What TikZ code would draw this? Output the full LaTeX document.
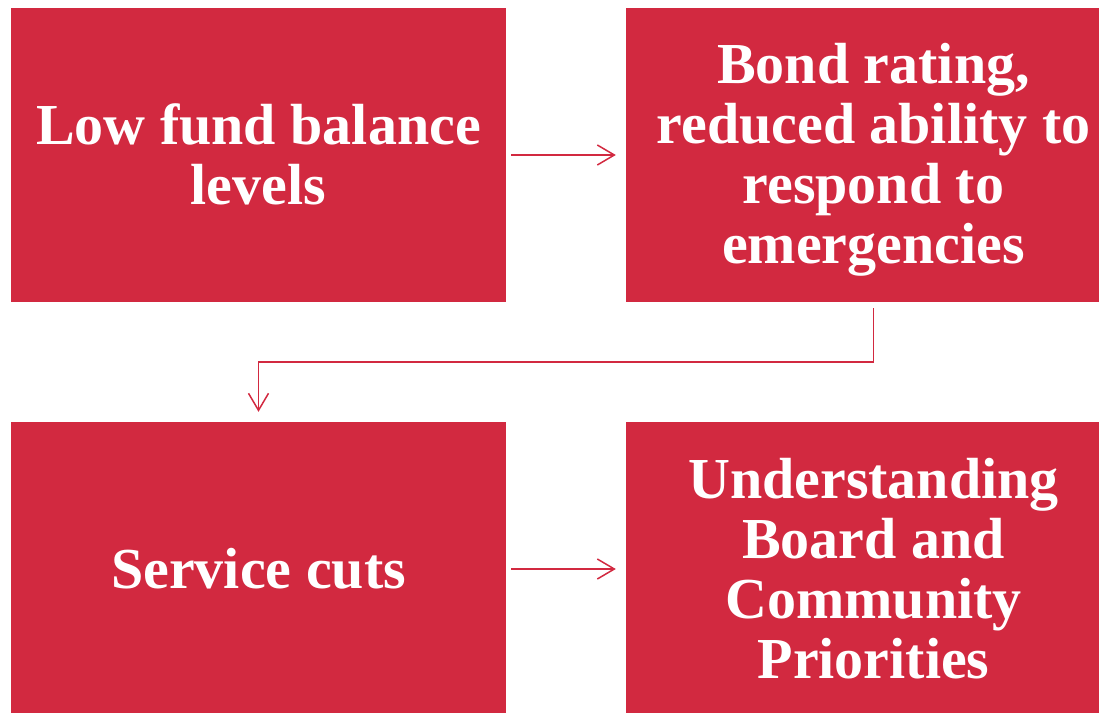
\documentclass[tikz,border=0pt]{standalone}
\usepackage{fontspec}
\setmainfont{Liberation Serif}
\usetikzlibrary{arrows.meta}
\definecolor{boxred}{RGB}{210,41,64}
\tikzset{
  box/.style={fill=boxred, draw=none, minimum width=495pt, minimum height=294pt,
    inner sep=0pt},
  boxtext/.style={text=white, align=center, inner sep=0pt,
    font=\fontsize{58pt}{60pt}\selectfont\bfseries},
  conn/.style={draw=boxred, line width=1.5pt,
    -{Straight Barb[length=17pt,width=20pt,line width=1.5pt]}}
}
\begin{document}
\begin{tikzpicture}[x=1pt,y=-1pt]
\useasboundingbox (0,0) rectangle (1099,712);
\clip (0,0) rectangle (1099,712);
\node[box] (b1) at (258.5,155) {};
\node[box] (b2) at (873.5,155) {};
\node[box] (b3) at (258.5,569) {};
\node[box] (b4) at (873.5,569) {};
\node[boxtext] (t1) at ([yshift=1pt]b1.center) {Low fund balance\\levels};
\node[boxtext] (t2) at ([yshift=-5pt]b2.center) {Bond rating,\\reduced ability to\\respond to\\emergencies};
\node[boxtext] (t3) at (b3.center) {Service cuts};
\node[boxtext] (t4) at (b4.center) {Understanding\\Board and\\Community\\Priorities};
\draw[conn, shorten <=5pt, shorten >=10pt] (b1) -- (b2);
\draw[conn, shorten <=5pt, shorten >=10pt] (b3) -- (b4);
\draw[conn, shorten <=6pt, shorten >=10pt] (b2.south) -- ++(0,60) -| (b3.north);
\end{tikzpicture}
\end{document}
